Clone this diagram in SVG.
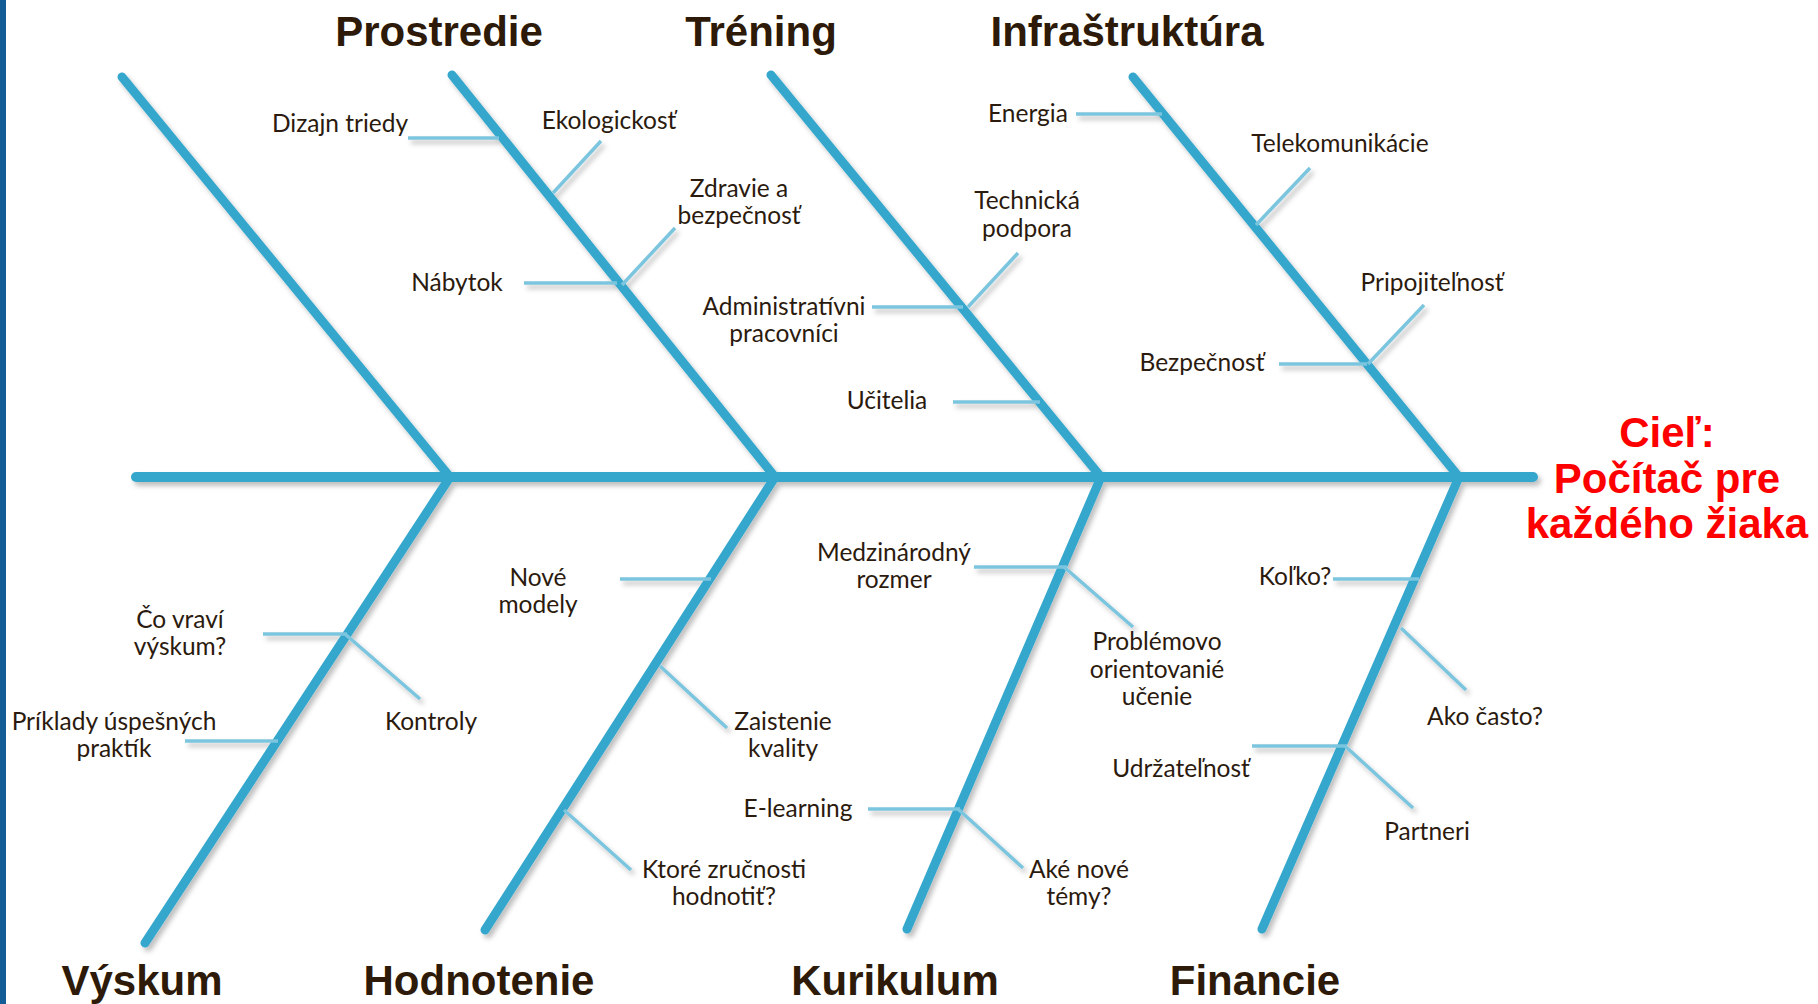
<svg xmlns="http://www.w3.org/2000/svg" width="1818" height="1004" viewBox="0 0 1818 1004">
<defs>
<filter id="sh" x="-10%" y="-10%" width="120%" height="120%">
<feDropShadow dx="3" dy="4" stdDeviation="2.5" flood-color="#000" flood-opacity="0.25"/>
</filter>
<style>
.bone{stroke:#34a7cd;stroke-width:9;stroke-linecap:round;fill:none}
.spine{stroke:#34a7cd;stroke-width:10;stroke-linecap:round;fill:none}
.sub{stroke:#7cc5de;stroke-width:3.5;fill:none}
.t{font-family:"Lato","Open Sans",sans-serif;font-size:24.5px;fill:#2b1a0e;text-anchor:middle}
.h{font-family:"Liberation Sans",Arial,sans-serif;font-weight:bold;font-size:42px;fill:#2d1a08;text-anchor:middle}
.g{font-family:"Liberation Sans",Arial,sans-serif;font-weight:bold;font-size:42px;fill:#ff0000;text-anchor:middle}
</style>
</defs>
<rect x="0" y="0" width="1818" height="1004" fill="#ffffff"/>
<rect x="0" y="0" width="6" height="1004" fill="#145c96"/>

<g id="connectors" filter="url(#sh)">
<line class="spine" x1="136" y1="477" x2="1533" y2="477"/>
<line class="bone" x1="122" y1="77" x2="450" y2="477"/>
<line class="bone" x1="452" y1="75" x2="775" y2="477"/>
<line class="bone" x1="771" y1="75" x2="1101" y2="477"/>
<line class="bone" x1="1133" y1="77" x2="1459" y2="477"/>
<line class="bone" x1="450" y1="477" x2="145" y2="943"/>
<line class="bone" x1="775" y1="477" x2="485" y2="930"/>
<line class="bone" x1="1101" y1="477" x2="907" y2="929"/>
<line class="bone" x1="1459" y1="477" x2="1262" y2="929"/>
<line class="sub" x1="408" y1="138" x2="499" y2="138"/>
<line class="sub" x1="601" y1="141" x2="553" y2="193"/>
<line class="sub" x1="524" y1="283" x2="617" y2="283"/>
<line class="sub" x1="675" y1="228" x2="622" y2="285"/>
<line class="sub" x1="872" y1="307" x2="963" y2="307"/>
<line class="sub" x1="1018" y1="253" x2="968" y2="307"/>
<line class="sub" x1="953" y1="402" x2="1040" y2="402"/>
<line class="sub" x1="1076" y1="114" x2="1162" y2="114"/>
<line class="sub" x1="1310" y1="168" x2="1256" y2="225"/>
<line class="sub" x1="1279" y1="364" x2="1367" y2="364"/>
<line class="sub" x1="1424" y1="305" x2="1368" y2="364"/>
<line class="sub" x1="263" y1="634" x2="347" y2="634"/>
<line class="sub" x1="345" y1="634" x2="420" y2="699"/>
<line class="sub" x1="185" y1="741" x2="278" y2="741"/>
<line class="sub" x1="620" y1="579" x2="711" y2="579"/>
<line class="sub" x1="660" y1="666" x2="727" y2="728"/>
<line class="sub" x1="564" y1="810" x2="631" y2="870"/>
<line class="sub" x1="974" y1="567" x2="1067" y2="567"/>
<line class="sub" x1="1064" y1="567" x2="1133" y2="627"/>
<line class="sub" x1="868" y1="809" x2="960" y2="809"/>
<line class="sub" x1="958" y1="809" x2="1023" y2="868"/>
<line class="sub" x1="1333" y1="579" x2="1419" y2="579"/>
<line class="sub" x1="1401" y1="628" x2="1466" y2="690"/>
<line class="sub" x1="1252" y1="746" x2="1347" y2="746"/>
<line class="sub" x1="1345" y1="746" x2="1413" y2="808"/>
</g>

<g id="prostredie"><text class="h" x="439" y="46">Prostredie</text></g>
<g id="trening"><text class="h" x="761" y="46">Tréning</text></g>
<g id="infrastruktura"><text class="h" x="1127" y="46">Infraštruktúra</text></g>
<g id="vyskum"><text class="h" x="142" y="995">Výskum</text></g>
<g id="hodnotenie"><text class="h" x="479" y="995">Hodnotenie</text></g>
<g id="kurikulum"><text class="h" x="895" y="995">Kurikulum</text></g>
<g id="financie"><text class="h" x="1255" y="995">Financie</text></g>
<g id="ciel">
<text class="g" x="1667" y="447">Cieľ:</text>
<text class="g" x="1667" y="493">Počítač pre</text>
<text class="g" x="1667" y="538">každého žiaka</text>
</g>

<g id="labels-prostredie">
<text class="t" x="340" y="132">Dizajn triedy</text>
<text class="t" x="609" y="129">Ekologickosť</text>
<text class="t" x="457" y="291">Nábytok</text>
<text class="t" x="739" y="197">Zdravie a</text>
<text class="t" x="739" y="224">bezpečnosť</text>
</g>
<g id="labels-trening">
<text class="t" x="1027" y="209">Technická</text>
<text class="t" x="1027" y="237">podpora</text>
<text class="t" x="784" y="315">Administratívni</text>
<text class="t" x="784" y="342">pracovníci</text>
<text class="t" x="887" y="409">Učitelia</text>
</g>
<g id="labels-infrastruktura">
<text class="t" x="1028" y="122">Energia</text>
<text class="t" x="1340" y="152">Telekomunikácie</text>
<text class="t" x="1432" y="291">Pripojiteľnosť</text>
<text class="t" x="1202" y="371">Bezpečnosť</text>
</g>
<g id="labels-vyskum">
<text class="t" x="180" y="628">Čo vraví</text>
<text class="t" x="180" y="655">výskum?</text>
<text class="t" x="431" y="730">Kontroly</text>
<text class="t" x="114" y="730">Príklady úspešných</text>
<text class="t" x="114" y="757">praktík</text>
</g>
<g id="labels-hodnotenie">
<text class="t" x="538" y="586">Nové</text>
<text class="t" x="538" y="613">modely</text>
<text class="t" x="783" y="730">Zaistenie</text>
<text class="t" x="783" y="757">kvality</text>
<text class="t" x="724" y="878">Ktoré zručnosti</text>
<text class="t" x="724" y="905">hodnotiť?</text>
</g>
<g id="labels-kurikulum">
<text class="t" x="894" y="561">Medzinárodný</text>
<text class="t" x="894" y="588">rozmer</text>
<text class="t" x="1157" y="650">Problémovo</text>
<text class="t" x="1157" y="678">orientovanié</text>
<text class="t" x="1157" y="705">učenie</text>
<text class="t" x="798" y="817">E-learning</text>
<text class="t" x="1079" y="878">Aké nové</text>
<text class="t" x="1079" y="905">témy?</text>
</g>
<g id="labels-financie">
<text class="t" x="1295" y="585">Koľko?</text>
<text class="t" x="1485" y="725">Ako často?</text>
<text class="t" x="1181" y="777">Udržateľnosť</text>
<text class="t" x="1427" y="840">Partneri</text>
</g>
</svg>
